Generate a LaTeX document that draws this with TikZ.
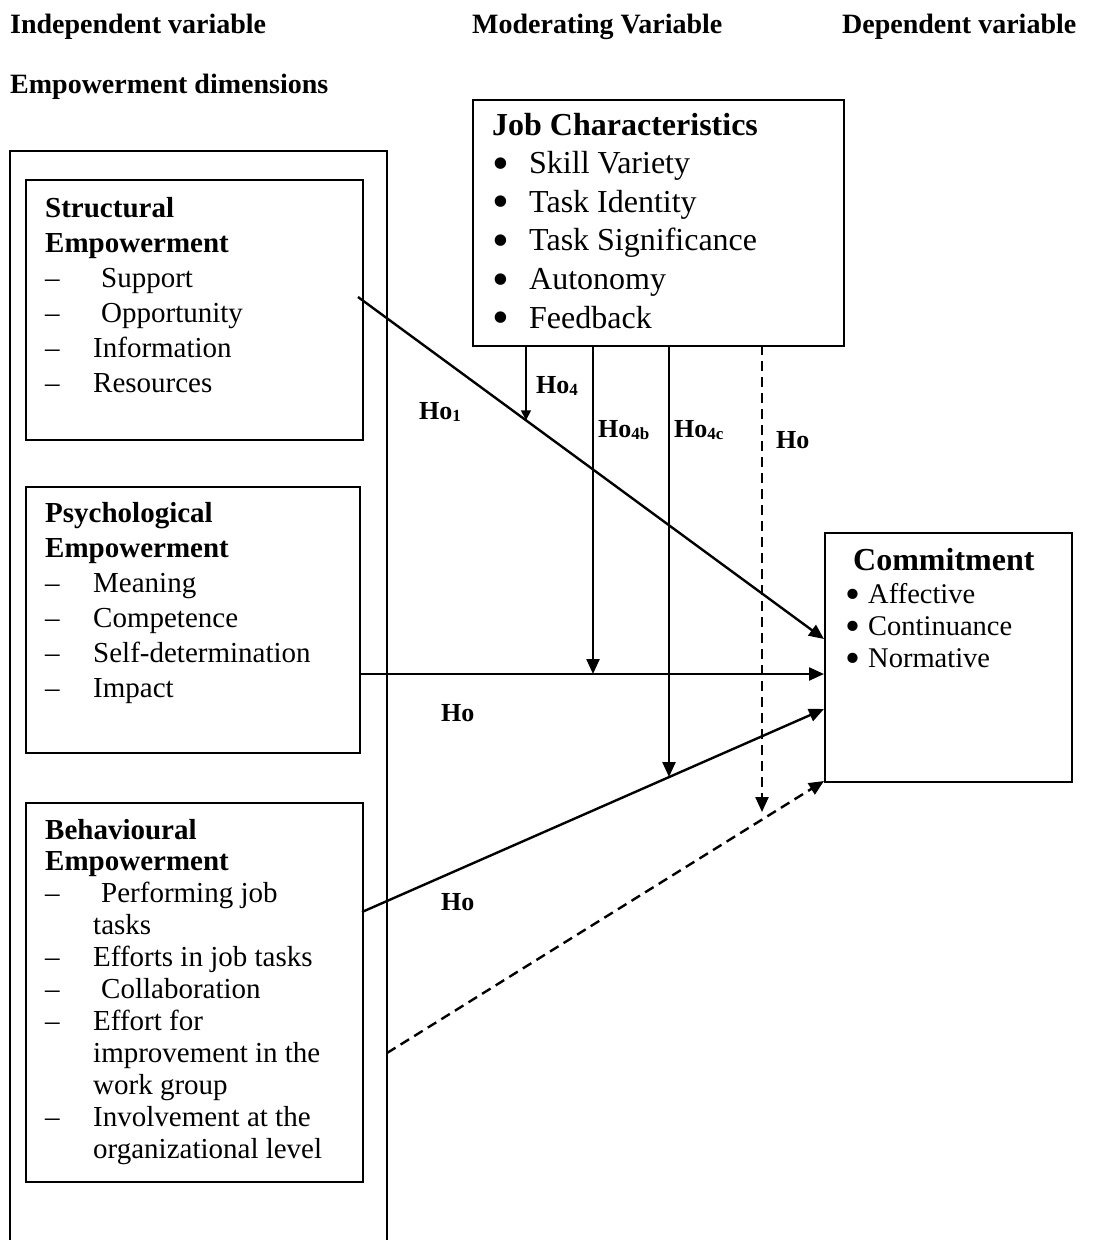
\documentclass[tikz,border=0pt]{standalone}
\usepackage{fontspec}
\setmainfont{Liberation Serif}
\usetikzlibrary{arrows.meta,calc}
\newcommand{\sz}[2]{\fontsize{#1}{#2}\selectfont}
\newcommand{\hsub}[1]{\raisebox{-2.5pt}{\sz{17}{17}#1}}
\newcommand{\bigbul}{\smash{\raisebox{-0.18em}{\scalebox{1.5}{\textbullet}}}}
\tikzset{
  box/.style={draw, line width=1.5pt, inner sep=0pt, anchor=north west},
  txt/.style={inner sep=0pt, anchor=base west, align=left},
  hlab/.style={inner sep=0pt, anchor=base west, font=\sz{26}{26}\bfseries},
  head/.style={inner sep=0pt, anchor=base west, font=\sz{28}{28}\bfseries},
  arr/.style={line width=2.4pt, -{Triangle[length=15pt,width=13pt]}},
  smallarr/.style={line width=1.5pt, -{Triangle[length=10pt,width=10pt]}},
  dsh/.style={dash pattern=on 10pt off 6pt},
}
\begin{document}
\begin{tikzpicture}[x=1pt,y=-1pt]
\useasboundingbox (0,0) rectangle (1118,1240);
\fill[white] (0,0) rectangle (1118,1240);

% headers
\node[head] (hind) at (10,33) {Independent variable};
\node[head] (hmod) at (472,33) {Moderating Variable};
\node[head] (hdep) at (842,33) {Dependent variable};
\node[head] (hemp) at (10,93) {Empowerment dimensions};

% outer frame (open at the bottom)
\draw[line width=2.2pt] (10,1240) -- (10,151) -- (387,151) -- (387,1240);

% boxes
\node[box, minimum width=337pt, minimum height=260pt] (struct) at (25,179) {};
\node[box, minimum width=334pt, minimum height=266pt] (psych) at (25,486) {};
\node[box, minimum width=337pt, minimum height=379pt] (behav) at (25,802) {};
\node[box, minimum width=371pt, minimum height=246pt] (job) at (472,99) {};
\node[box, minimum width=247pt, minimum height=249pt] (commit) at (824,532) {};

% structural text
\node[txt] (tstruct) at (45,217) {\sz{29}{35}%
\begin{tabular}[t]{@{}p{48pt}@{}l@{}}
\multicolumn{2}{@{}l@{}}{\bfseries Structural}\\
\multicolumn{2}{@{}l@{}}{\bfseries Empowerment}\\
-- & \hspace{8pt}Support\\
-- & \hspace{8pt}Opportunity\\
-- & Information\\
-- & Resources
\end{tabular}};

% psychological text
\node[txt] (tpsych) at (45,522) {\sz{29}{35}%
\begin{tabular}[t]{@{}p{48pt}@{}l@{}}
\multicolumn{2}{@{}l@{}}{\bfseries Psychological}\\
\multicolumn{2}{@{}l@{}}{\bfseries Empowerment}\\
-- & Meaning\\
-- & Competence\\
-- & Self-determination\\
-- & Impact
\end{tabular}};

% behavioural text
\node[txt] (tbehav) at (45,839) {\sz{29}{31.9}%
\begin{tabular}[t]{@{}p{48pt}@{}l@{}}
\multicolumn{2}{@{}l@{}}{\bfseries Behavioural}\\
\multicolumn{2}{@{}l@{}}{\bfseries Empowerment}\\
-- & \hspace{8pt}Performing job\\
 & tasks\\
-- & Efforts in job tasks\\
-- & \hspace{8pt}Collaboration\\
-- & Effort for\\
 & improvement in the\\
 & work group\\
-- & Involvement at the\\
 & organizational level
\end{tabular}};

% job characteristics text
\node[txt] (tjob) at (492,135) {\sz{32}{38.6}%
\begin{tabular}[t]{@{}p{37pt}@{}l@{}}
\multicolumn{2}{@{}l@{}}{\bfseries Job Characteristics}\\
\bigbul & Skill Variety\\
\bigbul & Task Identity\\
\bigbul & Task Significance\\
\bigbul & Autonomy\\
\bigbul & Feedback
\end{tabular}};

% commitment text
\node[txt, font=\sz{32}{32}\bfseries] (tcomh) at (853,570) {Commitment};
\node[txt] (tcom) at (845,603) {\sz{28.5}{32}%
\begin{tabular}[t]{@{}p{23pt}@{}l@{}}
\bigbul & Affective\\
\bigbul & Continuance\\
\bigbul & Normative
\end{tabular}};

% connector end points
\coordinate (s1) at (358,297);
\coordinate (c1) at (824,639);
\coordinate (p1) at (359,674);
\coordinate (c2) at (824,674);
\coordinate (b1) at (362,912);
\coordinate (c3) at (824,709);
\coordinate (d1) at (387,1053);
\coordinate (c4) at (824,781);

\coordinate (j1) at (526,345);
\coordinate (k1) at (526,420.3);
\coordinate (j2) at (593,345);
\coordinate (k2) at (593,674);
\coordinate (j3) at (669,345);
\coordinate (k3) at (669,777);
\coordinate (j4) at (762,345);
\coordinate (k4) at (762,812);

% main connectors
\draw[arr] (s1) -- (c1);
\draw[arr] (p1) -- (c2);
\draw[arr] (b1) -- (c3);
\draw[arr, dsh] (d1) -- (c4);

% moderating connectors
\draw[smallarr] (j1) -- (k1);
\draw[arr] (j2) -- (k2);
\draw[arr] (j3) -- (k3);
\draw[arr, dsh] (j4) -- (k4);

% hypothesis labels
\node[hlab] (h1) at (419,419) {Ho\hsub{1}};
\node[hlab] (h4) at (536,393) {Ho\hsub{4}};
\node[hlab] (h4b) at (598,437) {Ho\hsub{4b}};
\node[hlab] (h4c) at (674,437) {Ho\hsub{4c}};
\node[hlab] (h5) at (776,448) {Ho};
\node[hlab] (h2) at (441,721) {Ho};
\node[hlab] (h3) at (441,910) {Ho};
\end{tikzpicture}
\end{document}
